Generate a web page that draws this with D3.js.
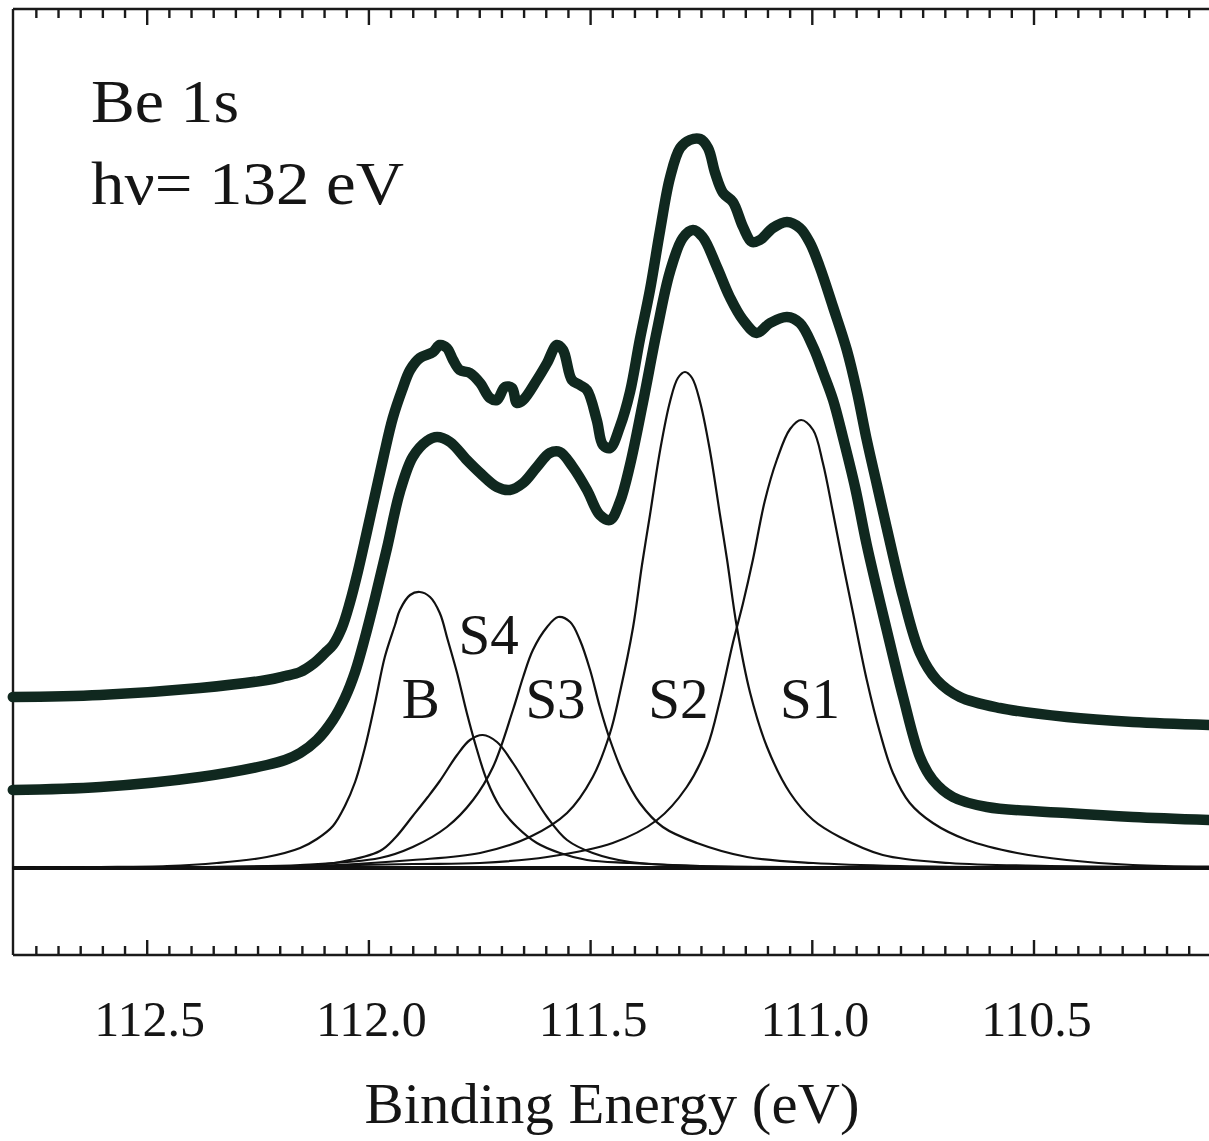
<!DOCTYPE html>
<html>
<head>
<meta charset="utf-8">
<script src="https://cdn.jsdelivr.net/npm/d3@7"></script>
<style>
  html, body { margin: 0; padding: 0; background: #ffffff; }
  svg { display: block; }
  text { font-family: "Liberation Serif", "Times New Roman", serif; fill: #151515; }
</style>
</head>
<body>
<svg id="chart" width="1209" height="1141"></svg>
<script>
// ---------- DATA (binding energy in eV, intensity in arbitrary units) ----------
const majorTickValues = [112.5, 112.0, 111.5, 111.0, 110.5];
const majorTickLabels = ["112.5", "112.0", "111.5", "111.0", "110.5"];
const peakNames = ["B", "S4", "S3", "S2", "S1"];
const peakLabelEnergy = [111.882, 111.729, 111.578, 111.301, 111.004];
const peakLabelIntensity = [30, 42.8, 30, 30, 30];
const titleLines = ["Be 1s", "h\u03bd= 132 eV"];
const axisTitle = "Binding Energy (eV)";

const spectrumUpper = [
  [112.802,34.2],[112.605,34.6],[112.380,36.0],[112.229,37.6],[112.188,38.4],[112.154,39.2],[112.125,40.8],
  [112.098,43.0],[112.080,44.6],[112.060,48.0],[112.042,53.0],[112.024,59.2],[112.005,66.6],
  [111.985,74.6],[111.965,82.6],[111.945,90.0],[111.924,95.6],[111.906,99.6],[111.884,102.0],
  [111.854,103.2],[111.839,104.6],[111.823,104.0],
  [111.809,101.6],[111.794,99.6],[111.771,99.0],[111.748,97.0],[111.726,94.0],[111.710,93.6],
  [111.692,96.2],[111.676,96.0],[111.665,93.0],[111.651,93.6],[111.620,97.6],[111.597,101.0],
  [111.575,104.6],[111.561,103.6],[111.541,97.6],[111.523,96.6],[111.507,95.6],[111.485,89.6],
  [111.471,84.6],[111.455,84.0],[111.433,88.2],[111.410,95.2],[111.388,105.6],[111.365,115.6],
  [111.342,127.6],[111.320,138.0],[111.297,144.0],[111.275,145.6],[111.252,145.8],[111.234,144.0],
  [111.218,139.0],[111.200,135.0],[111.178,133.2],[111.155,128.2],[111.135,125.2],[111.117,125.6],
  [111.088,128.0],[111.056,129.2],[111.027,128.0],[111.004,125.0],[110.982,120.2],[110.952,112.2],
  [110.921,103.6],[110.898,95.2],[110.876,85.6],[110.853,76.6],[110.831,68.0],[110.794,54.2],[110.756,43.0],
  [110.718,37.6],[110.666,34.2],[110.576,32.0],[110.425,30.2],[110.276,29.2],[110.104,28.6]
];

const spectrumLower = [
  [112.802,15.6],[112.605,16.2],[112.380,18.2],[112.229,20.6],[112.188,21.6],[112.154,23.0],[112.116,25.6],
  [112.080,29.6],[112.053,34.0],[112.030,39.2],[112.008,46.0],[111.985,54.0],[111.958,64.0],
  [111.929,75.2],[111.900,82.2],[111.868,85.4],[111.845,86.2],[111.816,85.2],[111.778,81.6],[111.748,79.0],
  [111.710,76.2],[111.681,75.6],[111.651,77.0],[111.620,80.2],[111.591,83.0],[111.568,83.2],
  [111.539,80.2],[111.507,75.6],[111.478,70.6],[111.455,69.6],[111.433,73.2],[111.410,80.6],
  [111.381,93.0],[111.349,107.6],[111.320,119.2],[111.291,126.0],[111.268,127.6],[111.246,126.2],
  [111.214,120.2],[111.185,114.2],[111.155,109.6],[111.124,107.0],[111.094,109.0],[111.056,110.2],
  [111.027,109.0],[110.997,104.2],[110.975,99.2],[110.952,93.6],[110.930,86.2],[110.902,76.0],[110.876,64.6],
  [110.831,47.6],[110.794,34.2],[110.756,22.2],[110.727,17.6],[110.682,14.2],[110.605,12.2],
  [110.425,11.0],[110.276,10.2],[110.104,9.6]
];

const peakB = [
  [112.802,0.1],[112.605,0.2],[112.454,0.4],[112.342,1.0],[112.229,2.2],[112.154,4.0],[112.116,5.8],[112.080,8.4],
  [112.053,12.4],[112.030,17.2],[112.008,24.0],[111.985,33.0],[111.963,42.2],[111.940,48.6],[111.929,51.6],
  [111.906,54.6],[111.884,55.2],[111.861,54.2],[111.839,51.0],[111.821,45.6],[111.800,39.0],
  [111.778,31.0],[111.755,23.6],[111.733,17.6],[111.703,12.2],[111.665,8.2],[111.620,5.0],
  [111.568,3.0],[111.507,1.6],[111.410,1.0],[111.252,0.4],[110.914,0.1],[110.104,0.0]
];

const peakS4 = [
  [112.802,0.0],[112.380,0.1],[112.154,0.4],[112.064,1.2],[111.974,3.4],[111.940,6.0],[111.900,10.4],[111.866,14.2],[111.839,17.4],
  [111.800,22.6],[111.771,25.6],[111.742,26.6],[111.710,25.2],[111.674,21.0],[111.636,15.6],
  [111.597,10.2],[111.552,5.6],[111.494,3.0],[111.410,1.2],[111.252,0.4],[110.914,0.1],[110.104,0.0]
];

const peakS3 = [
  [112.802,0.0],[112.380,0.2],[112.154,0.6],[111.974,2.0],[111.900,4.2],[111.823,8.2],[111.764,13.6],
  [111.719,20.2],[111.674,31.6],[111.651,38.2],[111.629,43.6],[111.597,48.2],[111.572,50.2],
  [111.545,49.2],[111.523,45.6],[111.500,39.6],[111.478,32.2],[111.455,25.6],[111.426,19.0],
  [111.388,13.0],[111.336,8.2],[111.259,5.0],[111.146,2.2],[110.997,1.0],[110.801,0.4],[110.104,0.0]
];

const peakS2 = [
  [112.802,0.0],[112.380,0.1],[112.154,0.3],[111.900,1.6],[111.748,3.0],[111.636,6.2],[111.552,11.0],
  [111.494,18.2],[111.455,27.0],[111.433,35.0],[111.403,48.2],[111.383,60.6],[111.365,70.6],
  [111.342,83.6],[111.320,93.2],[111.302,98.0],[111.286,99.2],[111.270,98.0],[111.252,93.2],
  [111.230,83.6],[111.207,70.6],[111.191,61.6],[111.169,48.2],[111.139,35.0],[111.101,24.2],
  [111.049,15.0],[110.997,9.6],[110.937,6.2],[110.840,2.6],[110.689,1.0],[110.463,0.4],[110.104,0.1]
];

const peakS1 = [
  [112.802,0.0],[112.380,0.2],[112.154,0.4],[111.900,0.8],[111.748,1.0],[111.597,2.2],[111.449,5.0],
  [111.349,9.6],[111.282,16.2],[111.236,24.2],[111.207,33.6],[111.178,45.0],[111.155,53.0],
  [111.133,61.6],[111.106,73.4],[111.079,81.6],[111.049,87.8],[111.024,89.6],[110.997,87.6],
  [110.975,81.0],[110.952,71.0],[110.930,61.0],[110.907,51.0],[110.876,37.6],[110.846,27.0],
  [110.817,19.0],[110.779,13.0],[110.727,9.0],[110.650,5.6],[110.537,3.0],[110.425,1.6],
  [110.276,0.6],[110.104,0.3]
];

const baseline = [[112.802,0],[110.104,0]];

// ---------- LAYOUT ----------
const svg = d3.select("#chart");
svg.append("rect").attr("width", 1209).attr("height", 1141).attr("fill", "#ffffff");

const plotLeft = 13, plotRight = 1209, plotTop = 9, plotBottom = 955;

const x = d3.scaleLinear().domain([112.5, 110.5]).range([146.7, 1033.5]);
const y = d3.scaleLinear().domain([0, 100]).range([868, 368]);

const thickColor = "#10281f";
const thinColor = "#111111";

// frame
const frame = svg.append("g").attr("stroke", "#1a1a1a").attr("stroke-width", 2.4).attr("fill", "none");
frame.append("line").attr("x1", plotLeft).attr("x2", plotLeft).attr("y1", plotTop).attr("y2", plotBottom);
frame.append("line").attr("x1", plotLeft).attr("x2", plotRight).attr("y1", plotTop).attr("y2", plotTop);
frame.append("line").attr("x1", plotLeft).attr("x2", plotRight).attr("y1", plotBottom).attr("y2", plotBottom);

// ticks
const minorTicks = d3.range(1, 54).map(i => +(112.80 - i * 0.05).toFixed(2))
  .filter(v => majorTickValues.indexOf(v) < 0);

function styleAxis(g) {
  g.select(".domain").remove();
  g.selectAll(".tick line").attr("stroke", "#1a1a1a").attr("stroke-width", 2.4);
  g.selectAll(".tick text").remove();
}

svg.append("g").attr("transform", `translate(0,${plotTop})`)
  .call(d3.axisBottom(x).tickValues(minorTicks).tickSize(9).tickFormat("")).call(styleAxis);
svg.append("g").attr("transform", `translate(0,${plotTop})`)
  .call(d3.axisBottom(x).tickValues(majorTickValues).tickSize(16).tickFormat("")).call(styleAxis);
svg.append("g").attr("transform", `translate(0,${plotBottom})`)
  .call(d3.axisTop(x).tickValues(minorTicks).tickSize(9).tickFormat("")).call(styleAxis);
svg.append("g").attr("transform", `translate(0,${plotBottom})`)
  .call(d3.axisTop(x).tickValues(majorTickValues).tickSize(15).tickFormat("")).call(styleAxis);

// tick labels
svg.append("g").selectAll("text").data(majorTickValues).join("text")
  .attr("x", d => x(d) + 3)
  .attr("y", 1036)
  .attr("text-anchor", "middle")
  .attr("font-size", 50)
  .text((d, i) => majorTickLabels[i]);

// axis title
svg.append("text")
  .attr("x", 612).attr("y", 1123)
  .attr("text-anchor", "middle")
  .attr("font-size", 56)
  .attr("textLength", 495).attr("lengthAdjust", "spacingAndGlyphs")
  .text(axisTitle);

// curves
const line = d3.line().x(d => x(d[0])).y(d => y(d[1]));
const smooth = d3.line().x(d => x(d[0])).y(d => y(d[1])).curve(d3.curveCatmullRom.alpha(0.5));

const comps = [peakB, peakS4, peakS3, peakS2, peakS1];
const sorted = arr => arr.slice().sort((a, b) => b[0] - a[0]);

svg.append("path").datum(baseline).attr("d", line)
  .attr("fill", "none").attr("stroke", thinColor).attr("stroke-width", 4);

svg.append("g").selectAll("path").data(comps).join("path")
  .attr("d", d => smooth(sorted(d)))
  .attr("fill", "none").attr("stroke", thinColor).attr("stroke-width", 2.2)
  .attr("stroke-linejoin", "round");

[spectrumLower, spectrumUpper].forEach(s => {
  svg.append("path").datum(sorted(s)).attr("d", smooth)
    .attr("fill", "none").attr("stroke", thickColor).attr("stroke-width", 10.5)
    .attr("stroke-linecap", "round").attr("stroke-linejoin", "round");
});

// peak labels
svg.append("g").selectAll("text").data(peakNames).join("text")
  .attr("x", (d, i) => x(peakLabelEnergy[i]))
  .attr("y", (d, i) => y(peakLabelIntensity[i]))
  .attr("text-anchor", "middle")
  .attr("font-size", 57)
  .text(d => d);

// title
svg.append("text").attr("x", 91).attr("y", 122).attr("font-size", 62)
  .attr("textLength", 148).attr("lengthAdjust", "spacingAndGlyphs").text(titleLines[0]);
svg.append("text").attr("x", 91).attr("y", 204).attr("font-size", 62)
  .attr("textLength", 313).attr("lengthAdjust", "spacingAndGlyphs").text(titleLines[1]);
</script>
</body>
</html>
